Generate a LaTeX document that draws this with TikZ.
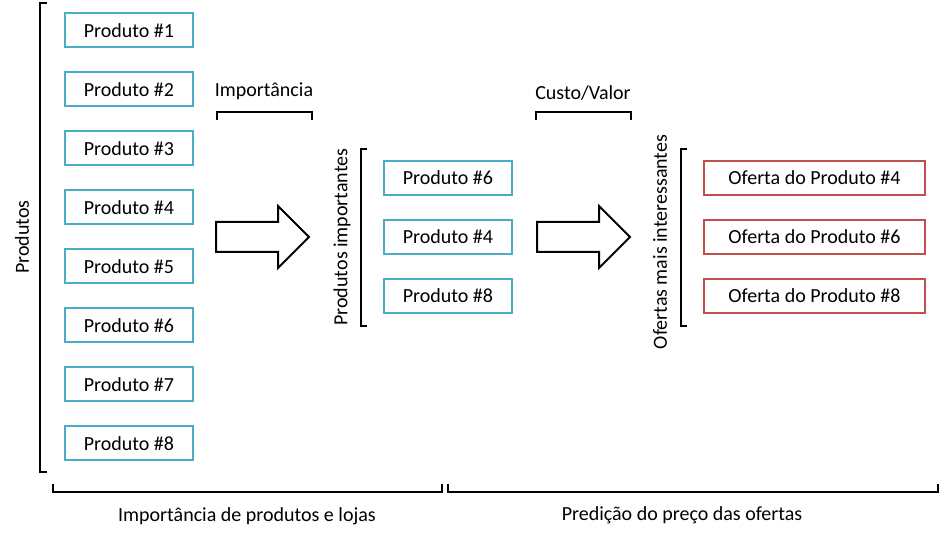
\documentclass[tikz,border=0pt]{standalone}
\usepackage{fontspec}
\setmainfont{Carlito}
\usetikzlibrary{positioning, shapes.arrows}
\definecolor{pcolor}{HTML}{4BACC6}
\definecolor{ocolor}{HTML}{C0504D}

\begin{document}
\begin{tikzpicture}[x=0.75pt, y=-0.75pt,
    prod/.style={rectangle, draw=pcolor, line width=1.5pt, minimum width=96pt, minimum height=25.5pt, font=\fontsize{15}{18}\selectfont, outer sep=0pt},
    oferta/.style={prod, draw=ocolor, minimum width=165.75pt},
    seta/.style={single arrow, draw, line width=1.5pt, minimum height=69.75pt, single arrow head extend=12pt, inner xsep=0pt, inner ysep=10.5pt},
    brk/.style={line width=1.5pt},
    lbl/.style={font=\fontsize{15}{18}\selectfont},
    node distance=18.75pt,
  ]
    \useasboundingbox (0,0) rectangle (940,541);

    % produtos
    \node[prod] (p1) at (129,30.5) {Produto \#1};
    \node[prod, below=of p1] (p2) {Produto \#2};
    \node[prod, below=of p2] (p3) {Produto \#3};
    \node[prod, below=of p3] (p4) {Produto \#4};
    \node[prod, below=of p4] (p5) {Produto \#5};
    \node[prod, below=of p5] (p6) {Produto \#6};
    \node[prod, below=of p6] (p7) {Produto \#7};
    \node[prod, below=of p7] (p8) {Produto \#8};
    \node[lbl, rotate=90] (produtos) at (22,237) {Produtos};
    \draw[brk] (47,3) -- (40,3) -- (40,472) -- (47,472);

    % importancia
    \node[seta] (seta1) at (255,237) {};
    \node[lbl] (imp) at (264,91) {Importância};
    \draw[brk] (217,120) -- (217,112) -- (312,112) -- (312,120);

    % produtos importantes
    \node[prod] (m6) at (448,178) {Produto \#6};
    \node[prod, below=of m6] (m4) {Produto \#4};
    \node[prod, below=of m4] (m8) {Produto \#8};
    \node[lbl, rotate=90] (importantes) at (342,237) {Produtos importantes};
    \draw[brk] (367,149) -- (361,149) -- (361,326) -- (367,326);

    % custo/valor
    \node[seta] (seta2) at (576,237) {};
    \node[lbl] (custo) at (583,93) {Custo/Valor};
    \draw[brk] (536,120) -- (536,112) -- (631,112) -- (631,120);

    % ofertas
    \node[oferta] (o4) at (814.5,178) {Oferta do Produto \#4};
    \node[oferta, below=of o4] (o6) {Oferta do Produto \#6};
    \node[oferta, below=of o6] (o8) {Oferta do Produto \#8};
    \node[lbl, rotate=90] (ofertas) at (660,242) {Ofertas mais interessantes};
    \draw[brk] (687,149) -- (681,149) -- (681,326) -- (687,326);

    % etapas
    \draw[brk] (53,484) -- (53,492) -- (442,492) -- (442,484);
    \draw[brk] (448,484) -- (448,492) -- (938,492) -- (938,484);
    \node[lbl] (etapa1) at (247,516) {Importância de produtos e lojas};
    \node[lbl] (etapa2) at (682,515) {Predição do preço das ofertas};
  \end{tikzpicture}
\end{document}
